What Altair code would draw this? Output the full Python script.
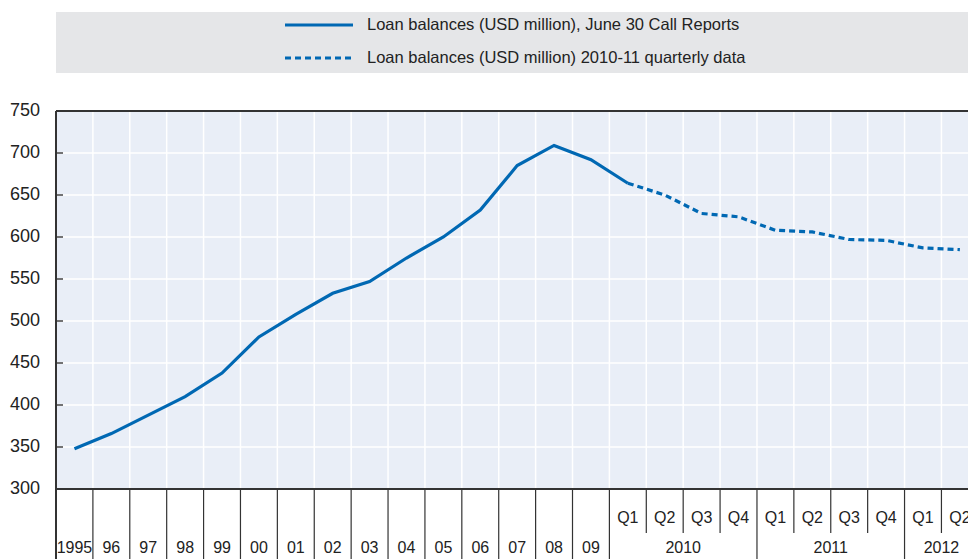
import altair as alt
import pandas as pd

# x-axis slots: annual observations, then quarters grouped by year
years = ["1995", "96", "97", "98", "99", "00", "01", "02", "03", "04", "05", "06", "07", "08", "09"]
quarters = ["Q1", "Q2", "Q3", "Q4", "Q1", "Q2", "Q3", "Q4", "Q1", "Q2"]
quarter_years = ["2010", "2010", "2010", "2010", "2011", "2011", "2011", "2011", "2012", "2012"]

# Loan balances (USD million), June 30 Call Reports (runs into the first 2010 slot)
annual_values = [348, 366, 388, 410, 438, 481, 508, 533, 547, 575, 600, 632, 685, 709, 692, 664]
# Loan balances (USD million), quarterly data from 2010 Q1
quarterly_values = [664, 650, 628, 624, 608, 606, 597, 596, 587, 585]

y_ticks = [300, 350, 400, 450, 500, 550, 600, 650, 700, 750]
legend_labels = [
    "Loan balances (USD million), June 30 Call Reports",
    "Loan balances (USD million) 2010-11 quarterly data",
]

FONT = "Liberation Sans Narrow, Arial Narrow, Liberation Sans, Arial, sans-serif"
BLUE = "#0068b3"
INK = "#222222"
W, H = 912, 378

slot_labels = years + quarters
slot_groups = years + quarter_years
n_slots = len(slot_labels)
start = len(years)

xs = alt.Scale(domain=[0, 24.72], nice=False, zero=False)
ys = alt.Scale(domain=[300, 750], nice=False, zero=False)

solid = pd.DataFrame({"x": [i + 0.5 for i in range(len(annual_values))], "v": annual_values})
dashed = pd.DataFrame({"x": [start + i + 0.5 for i in range(len(quarterly_values))], "v": quarterly_values})

# slot boundaries; separators under the axis are full height between groups
bounds = []
for b in range(n_slots):
    full = b == 0 or slot_groups[b] != slot_groups[b - 1]
    bounds.append({"b": b, "full": full})
bounds = pd.DataFrame(bounds)

slot_df = pd.DataFrame({
    "x": [i + 0.5 for i in range(n_slots)],
    "label": slot_labels,
    "row": ["year"] * len(years) + ["quarter"] * len(quarters),
})
grp = {}
for i, g in enumerate(slot_groups[start:]):
    grp.setdefault(g, []).append(start + i + 0.5)
group_df = pd.DataFrame({"x": [sum(v) / len(v) for v in grp.values()], "label": list(grp.keys())})

one = pd.DataFrame({"k": [0]})
ticks_df = pd.DataFrame({"v": y_ticks, "label": [str(t) for t in y_ticks]})

X = lambda f: alt.X(f, scale=xs, axis=None)
Y = lambda f: alt.Y(f, scale=ys, axis=None)

# white grid
hgrid = alt.Chart(ticks_df).mark_rule(color="white", strokeWidth=1.5).encode(
    y=Y("v:Q"), x=alt.value(0), x2=alt.value(W)
)
vgrid = alt.Chart(bounds).transform_filter("datum.b > 0").mark_rule(
    color="white", strokeWidth=1.5
).encode(x=X("b:Q"), y=alt.value(0), y2=alt.value(H))

solid_line = alt.Chart(solid).mark_line(color=BLUE, strokeWidth=3.2, strokeCap="butt").encode(
    x=X("x:Q"), y=Y("v:Q")
)
dashed_line = alt.Chart(dashed).mark_line(
    color=BLUE, strokeWidth=3.2, strokeDash=[6, 4], strokeCap="butt"
).encode(x=X("x:Q"), y=Y("v:Q"))

# y axis: inward ticks and labels
inner_ticks = alt.Chart(ticks_df).mark_rule(color="#444", strokeWidth=1.5).encode(
    y=Y("v:Q"), x=alt.value(0), x2=alt.value(7)
)
y_labels = alt.Chart(ticks_df).mark_text(
    align="right", baseline="middle", font=FONT, fontSize=18, color=INK
).encode(y=Y("v:Q"), x=alt.value(-16), text="label:N")

frame_top = alt.Chart(one).mark_rule(color="#333", strokeWidth=2).encode(
    x=alt.value(0), x2=alt.value(W), y=alt.value(0)
)
frame_bottom = alt.Chart(one).mark_rule(color="#333", strokeWidth=2).encode(
    x=alt.value(0), x2=alt.value(W), y=alt.value(H)
)
frame_left = alt.Chart(one).mark_rule(color="#333", strokeWidth=2).encode(
    x=alt.value(0), y=alt.value(0), y2=alt.value(448)
)

sep_full = alt.Chart(bounds).transform_filter("datum.full").mark_rule(
    color="#333", strokeWidth=1.2
).encode(x=X("b:Q"), y=alt.value(H), y2=alt.value(448))
sep_short = alt.Chart(bounds).transform_filter("!datum.full").mark_rule(
    color="#333", strokeWidth=1.2
).encode(x=X("b:Q"), y=alt.value(H), y2=alt.value(422))

year_text = alt.Chart(slot_df).transform_filter("datum.row == 'year'").mark_text(
    font=FONT, fontSize=16, color=INK, baseline="middle"
).encode(x=X("x:Q"), y=alt.value(437), text="label:N")
quarter_text = alt.Chart(slot_df).transform_filter("datum.row == 'quarter'").mark_text(
    font=FONT, fontSize=16, color=INK, baseline="middle"
).encode(x=X("x:Q"), y=alt.value(407), text="label:N")
group_text = alt.Chart(group_df).mark_text(
    font=FONT, fontSize=16, color=INK, baseline="middle"
).encode(x=X("x:Q"), y=alt.value(437), text="label:N")

# legend panel
legend_box = alt.Chart(one).mark_rect(color="#e5e6e8").encode(
    x=alt.value(0), x2=alt.value(W), y=alt.value(-99), y2=alt.value(-38)
)
leg_solid = alt.Chart(one).mark_rule(color=BLUE, strokeWidth=3).encode(
    x=alt.value(229), x2=alt.value(297), y=alt.value(-86)
)
leg_dash = alt.Chart(one).mark_rule(color=BLUE, strokeWidth=3, strokeDash=[6, 4]).encode(
    x=alt.value(229), x2=alt.value(297), y=alt.value(-53)
)
leg_text1 = alt.Chart(one).mark_text(
    align="left", baseline="middle", font=FONT, fontSize=16.5, color=INK, text=legend_labels[0]
).encode(x=alt.value(311), y=alt.value(-86))
leg_text2 = alt.Chart(one).mark_text(
    align="left", baseline="middle", font=FONT, fontSize=16.5, color=INK, text=legend_labels[1]
).encode(x=alt.value(311), y=alt.value(-53))

chart = alt.layer(
    hgrid, vgrid, solid_line, dashed_line, inner_ticks, y_labels,
    frame_top, frame_bottom, frame_left, sep_full, sep_short,
    year_text, quarter_text, group_text,
    legend_box, leg_solid, leg_dash, leg_text1, leg_text2,
).properties(
    width=W, height=H,
    padding={"left": 56, "top": 111, "right": 0, "bottom": 70},
    autosize=alt.AutoSizeParams(type="none"),
    background="white",
).configure_view(fill="#e9eef7", stroke=None)

chart.save("out.html", embed_options={"renderer": "svg", "actions": False})
